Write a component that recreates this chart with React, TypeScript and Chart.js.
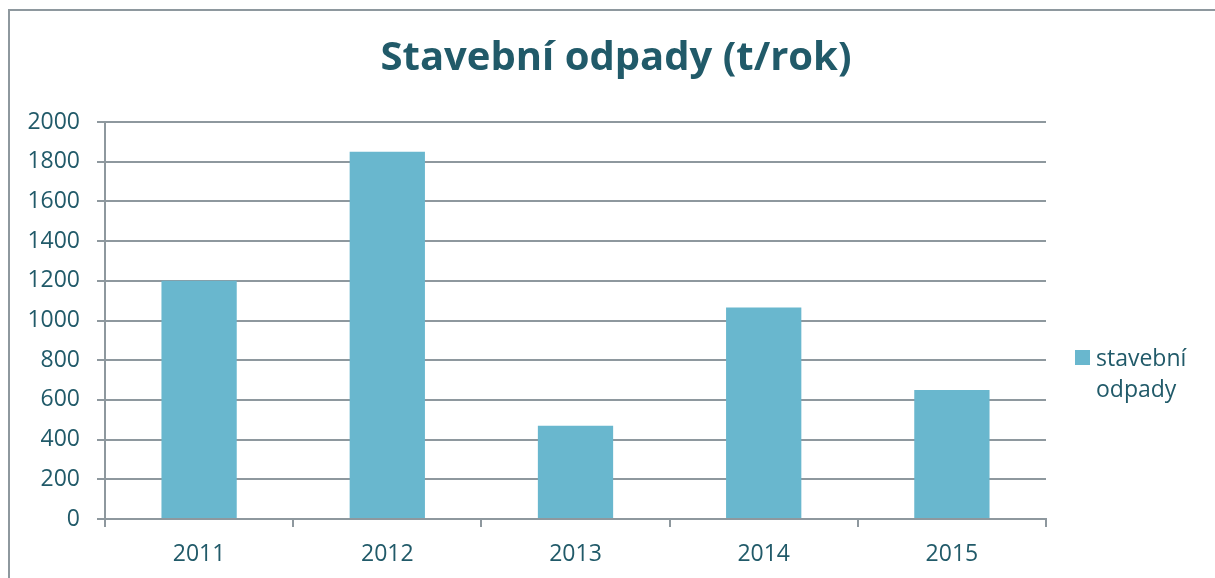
import React, { useEffect, useRef } from "react";
import { Chart, registerables } from "chart.js";

Chart.register(...registerables);

const categories = ["2011", "2012", "2013", "2014", "2015"];
const seriesName = "stavební odpady";
const legendLines = ["stavební", "odpady"];
const values = [1200, 1850, 470, 1065, 650];
const yTicks = [0, 200, 400, 600, 800, 1000, 1200, 1400, 1600, 1800, 2000];
const titleText = "Stavební odpady (t/rok)";

const TEXT = "#215A69";
const GRID = "#8E989E";
const BAR = "#69B7CE";
const FONT = "'Open Sans', sans-serif";

export default function App() {
  const ref = useRef<HTMLCanvasElement | null>(null);

  useEffect(() => {
    if (!ref.current) return;
    const framePlugin = {
      id: "frame",
      afterDraw(chart: any) {
        const ctx = chart.ctx;
        ctx.save();
        ctx.strokeStyle = GRID;
        ctx.lineWidth = 2;
        ctx.beginPath();
        ctx.moveTo(9, 578);
        ctx.lineTo(9, 10);
        ctx.lineTo(1215, 10);
        ctx.stroke();
        // title
        ctx.fillStyle = TEXT;
        ctx.font = `bold 40px ${FONT}`;
        ctx.textAlign = "center";
        ctx.textBaseline = "alphabetic";
        ctx.fillText(titleText, 616, 70);
        // legend
        const ds = chart.data.datasets[0];
        ctx.fillStyle = ds.backgroundColor;
        ctx.fillRect(1075, 350, 15, 15);
        ctx.fillStyle = TEXT;
        ctx.font = `23px ${FONT}`;
        ctx.textAlign = "left";
        legendLines.forEach((l, i) => ctx.fillText(l, 1096, 366 + i * 31));
        ctx.restore();
      },
    };
    const chart = new Chart(ref.current, {
      type: "bar",
      data: {
        labels: categories,
        datasets: [
          {
            label: seriesName,
            data: values,
            backgroundColor: BAR,
            borderWidth: 0,
            barPercentage: 0.4,
            categoryPercentage: 1,
          },
        ],
      },
      options: {
        responsive: false,
        animation: false,
        layout: { padding: { left: 0, right: 169, top: 122, bottom: 0 } },
        plugins: {
          legend: { display: false },
          tooltip: { enabled: false },
          title: { display: false },
        },
        scales: {
          x: {
            afterFit(scale: any) {
              scale.height = 59;
            },
            grid: {
              drawOnChartArea: false,
              drawTicks: true,
              tickLength: 8,
              color: GRID,
              lineWidth: 2,
              offset: true,
            },
            border: { color: GRID, width: 2 },
            ticks: {
              color: TEXT,
              font: { family: FONT, size: 23 },
              padding: 14,
            },
          },
          y: {
            min: 0,
            max: 2000,
            afterFit(scale: any) {
              scale.width = 105;
            },
            afterBuildTicks(scale: any) {
              scale.ticks = yTicks.map((v) => ({ value: v }));
            },
            grid: {
              color: GRID,
              lineWidth: 2,
              tickLength: 8,
            },
            border: { color: GRID, width: 2 },
            ticks: {
              color: TEXT,
              font: { family: FONT, size: 23 },
              padding: 17,
              callback: (v: any) => String(v),
            },
          },
        },
      },
      plugins: [framePlugin],
    });
    return () => chart.destroy();
  }, []);

  return (
    <div style={{ position: "absolute", left: 0, top: 0, width: 1215, height: 578, background: "#fff" }}>
      <canvas ref={ref} width={1215} height={578} style={{ display: "block" }} />
    </div>
  );
}
